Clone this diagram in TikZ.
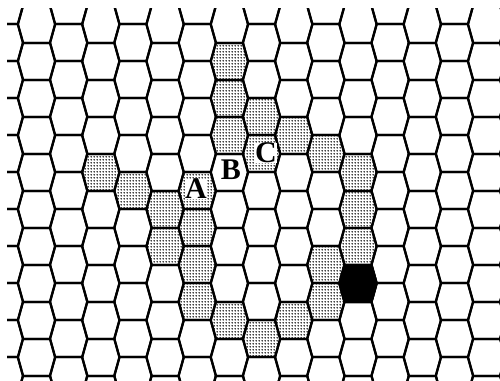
\documentclass[tikz,border=0pt]{standalone}
\usepackage{fontspec}
\setmainfont{Liberation Serif}
\usepackage{tikz}
\usetikzlibrary{patterns}

% dotted fill of the path cells
\pgfdeclarepatternformonly{celldots}{\pgfpointorigin}{\pgfpoint{3pt}{3pt}}{\pgfpoint{3pt}{3pt}}{%
  \pgfpathcircle{\pgfpoint{1.5pt}{1.5pt}}{1.0pt}\pgfusepath{fill}}

% flat-top hexagon around (cx,cy)
\newcommand{\hexcell}[2]{(#1-13.5,#2-18.5) -- (#1+13.5,#2-18.5) -- (#1+18.65,#2)
  -- (#1+13.5,#2+18.5) -- (#1-13.5,#2+18.5) -- (#1-18.65,#2) -- cycle}

\begin{document}
\begin{tikzpicture}[x=1pt,y=-1pt,
  edge/.style={draw=black,line width=2.2pt},
  lbl/.style={fill=white,inner sep=0.3pt,font=\fontsize{30}{30}\selectfont\bfseries}]
  \useasboundingbox (0,0) rectangle (500,380);
  \begin{scope}
    \clip (7,8) rectangle (500,380);
    % path cells
    \foreach \j/\k in {2/4,3/5,4/5,4/6,5/5,5/6,5/7,5/8,6/1,6/2,6/3,6/8,7/3,7/4,7/9,
                       8/3,8/8,9/4,9/7,9/8,10/4,10/5,10/6}{
      \pgfmathsetmacro\cx{36.5+32.15*\j}
      \pgfmathsetmacro\cy{24.5-19*mod(\j+2,2)+37*\k}
      \fill[pattern=celldots] \hexcell{\cx}{\cy};
    }
    % grid
    \foreach \j in {-1,...,15}{
      \foreach \k in {-1,...,11}{
        \pgfmathsetmacro\cx{36.5+32.15*\j}
        \pgfmathsetmacro\cy{24.5-19*mod(\j+2,2)+37*\k}
        \draw[edge] \hexcell{\cx}{\cy};
      }
    }
    % goal cell
    \filldraw[edge,fill=black] \hexcell{358}{283.5};
  \end{scope}
  % labels
  \node[lbl] (A) at (196,189) {A};
  \node[lbl] (B) at (231,170) {B};
  \node[lbl] (C) at (266,153) {C};
\end{tikzpicture}
\end{document}
